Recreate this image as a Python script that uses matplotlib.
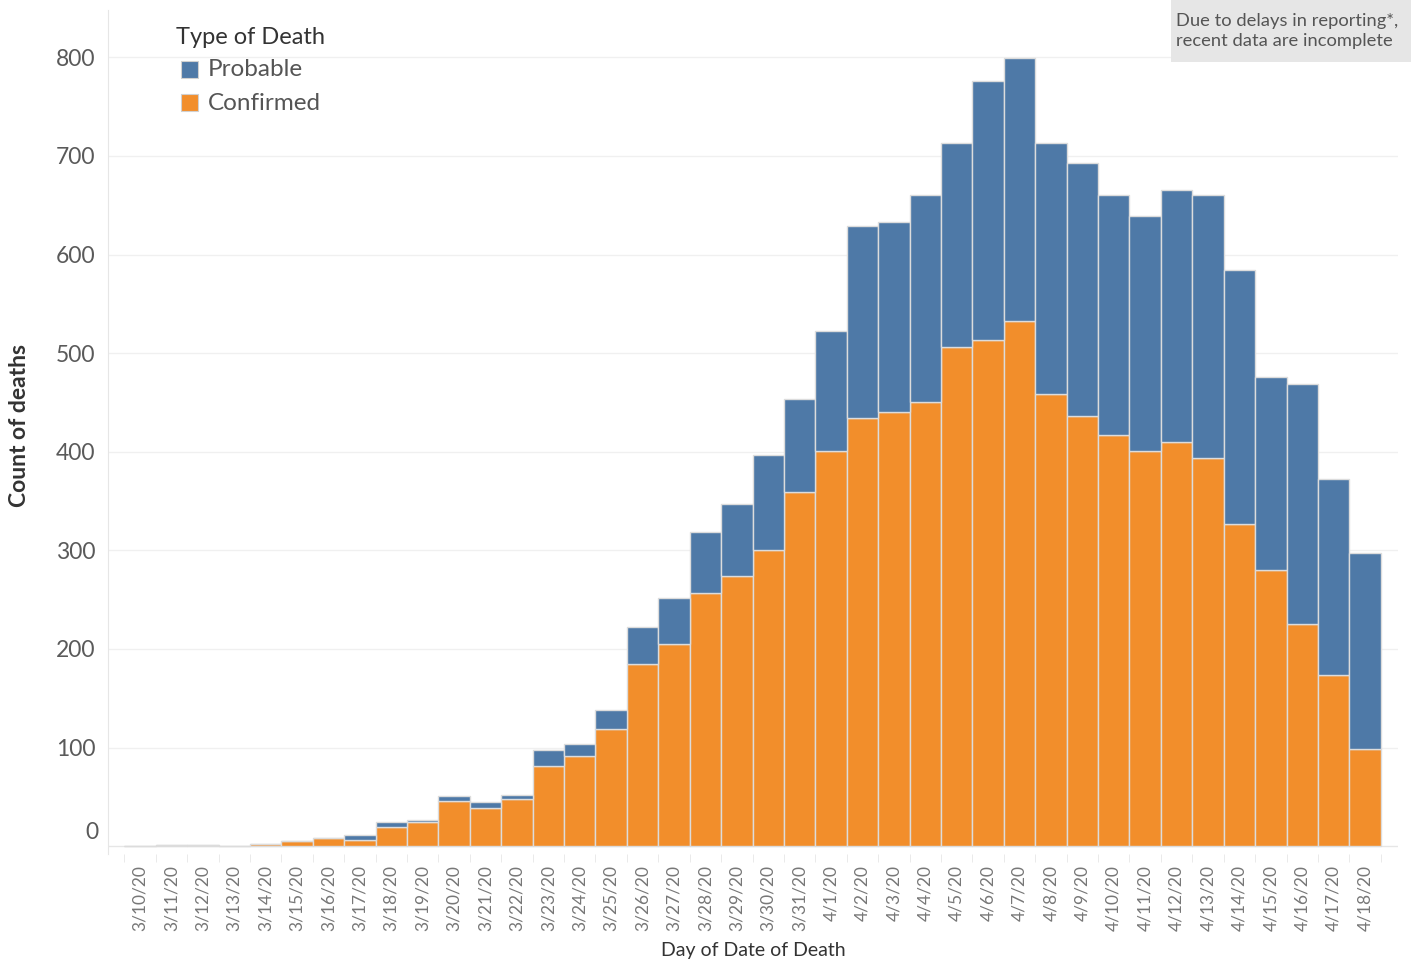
import matplotlib
matplotlib.use("Agg")
import matplotlib.pyplot as plt
import matplotlib.transforms as mtransforms
from matplotlib.patches import Rectangle
import numpy as np

dates = ["3/10/20", "3/11/20", "3/12/20", "3/13/20", "3/14/20", "3/15/20", "3/16/20",
         "3/17/20", "3/18/20", "3/19/20", "3/20/20", "3/21/20", "3/22/20", "3/23/20",
         "3/24/20", "3/25/20", "3/26/20", "3/27/20", "3/28/20", "3/29/20", "3/30/20",
         "3/31/20", "4/1/20", "4/2/20", "4/3/20", "4/4/20", "4/5/20", "4/6/20",
         "4/7/20", "4/8/20", "4/9/20", "4/10/20", "4/11/20", "4/12/20", "4/13/20",
         "4/14/20", "4/15/20", "4/16/20", "4/17/20", "4/18/20"]
confirmed = [0, 1, 1, 0, 2, 5, 8, 6, 19, 24, 46, 39, 48, 81, 91, 119, 185, 205, 257, 274,
             300, 359, 401, 434, 440, 450, 506, 513, 533, 459, 436, 417, 401, 410, 394,
             327, 280, 225, 174, 98]
probable = [0, 0, 0, 0, 0, 0, 0, 5, 5, 2, 5, 6, 4, 16, 13, 19, 37, 47, 62, 73,
            97, 94, 121, 195, 193, 210, 207, 263, 266, 254, 257, 243, 238, 255, 266,
            257, 196, 244, 198, 199]

BLUE = "#4e79a7"
ORANGE = "#f28e2b"
plt.rcParams["font.family"] = ["Lato", "DejaVu Sans"]

fig = plt.figure(figsize=(14.13, 9.64), dpi=100)
ax = fig.add_axes([0.0764, 0.114, 0.9130, 0.8756])

x = np.arange(len(dates))
ax.bar(x, confirmed, width=1.0, color=ORANGE, edgecolor="#dcdcdc", linewidth=1.0, zorder=3)
ax.bar(x, probable, width=1.0, bottom=confirmed, color=BLUE, edgecolor="#dcdcdc",
       linewidth=1.0, zorder=3)

ax.set_xlim(-1.02, len(dates) - 1 + 1.05)
ax.set_ylim(-8.1, 848)

# y axis
ax.set_yticks(range(100, 801, 100))
ax.tick_params(axis="y", length=0, pad=9, labelsize=16.5, labelcolor="#5a5a5a")
ax.grid(axis="y", color="#f0f0f0", linewidth=1, zorder=0)
trans = mtransforms.blended_transform_factory(ax.transAxes, ax.transData)
ax.text(-0.0077, 14, "0", transform=trans, ha="right", va="center",
        fontsize=16.5, color="#5a5a5a")
ax.axhline(0, color="#e6e6e6", linewidth=1, zorder=2)

# x axis
ax.set_xticks(x)
ax.set_xticklabels(dates, rotation=90, fontsize=12.5, color="#777777")
ax.set_xticks(np.arange(-0.5, len(dates), 1), minor=True)
ax.tick_params(axis="x", which="major", length=0, pad=8)
ax.tick_params(axis="x", which="minor", length=6, color="#e6e6e6")

for side in ["top", "right", "bottom"]:
    ax.spines[side].set_visible(False)
ax.spines["left"].set_color("#e6e6e6")

ax.set_ylabel("Count of deaths", fontsize=16.5, fontweight="bold", color="#333333",
              va="center")
ax.yaxis.set_label_coords(-0.0682, 0.508)
ax.set_xlabel("Day of Date of Death", fontsize=14, color="#333333", va="center")
ax.xaxis.set_label_coords(0.5, -0.1137)

# legend
fig.text(176 / 1413, 1 - 38 / 964, "Type of Death", fontsize=17, color="#333333",
         va="center", ha="left")
for lab, col, ypx in [("Probable", BLUE, 69), ("Confirmed", ORANGE, 102)]:
    fig.patches.append(Rectangle((181 / 1413, 1 - (ypx + 9) / 964), 17 / 1413, 17 / 964,
                                 transform=fig.transFigure, facecolor=col,
                                 edgecolor="#d0d0d0", linewidth=0.8))
    fig.text(208 / 1413, 1 - (ypx + 1) / 964, lab, fontsize=17.5, color="#555555",
             va="center", ha="left")

# note box
fig.patches.append(Rectangle((1171 / 1413, 1 - 62 / 964), 240 / 1413, 62 / 964,
                             transform=fig.transFigure, facecolor="#e6e6e6",
                             edgecolor="none"))
fig.text(1176 / 1413, 1 - 31 / 964, "Due to delays in reporting*,\nrecent data are incomplete",
         fontsize=13.2, color="#555555", va="center", ha="left", linespacing=1.3)

fig.savefig("out.png", dpi=100)
